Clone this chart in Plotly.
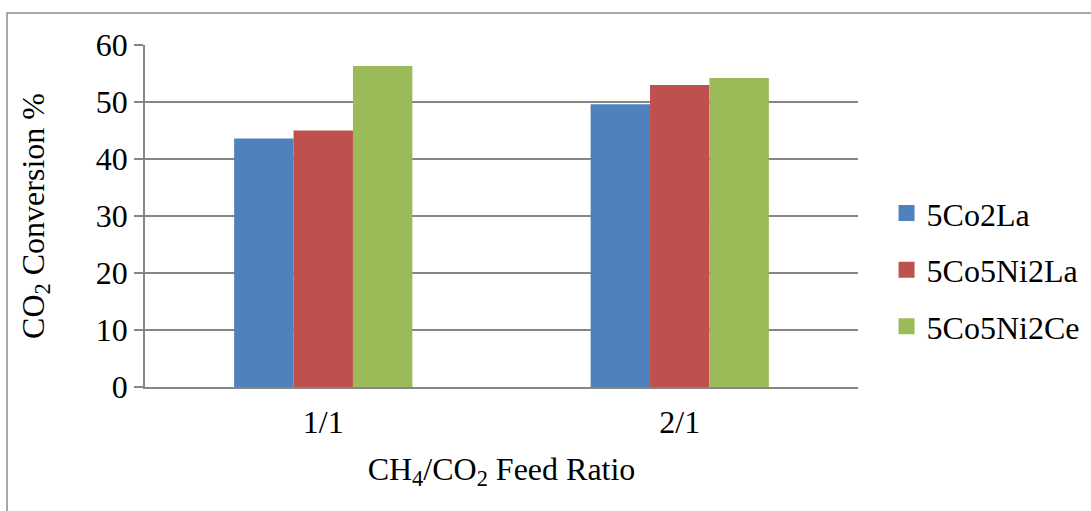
import plotly.graph_objects as go

# Feed ratios (categories) and CO2 conversion per catalyst
ratios = ["1/1", "2/1"]
catalysts = ["5Co2La", "5Co5Ni2La", "5Co5Ni2Ce"]
conv_5co2la = [43.6, 49.6]
conv_5co5ni2la = [45.0, 53.0]
conv_5co5ni2ce = [56.3, 54.2]
y_ticks = [0, 10, 20, 30, 40, 50, 60]

colors = ["#4F81BD", "#C0504D", "#9BBB59"]
series = [conv_5co2la, conv_5co5ni2la, conv_5co5ni2ce]

FONT = "Liberation Serif, Times New Roman, serif"
FS = 32
GRID = "#868686"

fig = go.Figure()
for name, vals, col in zip(catalysts, series, colors):
    fig.add_trace(go.Bar(
        x=ratios, y=vals, name=name,
        marker=dict(color=col, line=dict(width=0)),
        showlegend=False,
    ))
    # square swatches for the legend
    fig.add_trace(go.Scatter(
        x=[None], y=[None], mode="markers", name=name,
        legendgroup=name,
        marker=dict(symbol="square", size=17, color=col),
    ))

fig.update_layout(
    width=1091, height=511,
    margin=dict(l=145, r=233, t=45, b=124, autoexpand=False),
    paper_bgcolor="white", plot_bgcolor="white",
    font=dict(family=FONT, size=FS, color="black"),
    barmode="group", bargap=0.5, bargroupgap=0,
    showlegend=True,
    legend=dict(
        xref="container", yref="container",
        x=0.8126, y=0.472, xanchor="left", yanchor="middle",
        font=dict(family=FONT, size=FS, color="black"),
        tracegroupgap=12, traceorder="grouped",
        bgcolor="rgba(0,0,0,0)",
    ),
    xaxis=dict(
        showline=True, linecolor=GRID, linewidth=1.5,
        ticks="", showgrid=False,
        tickfont=dict(family=FONT, size=FS),
        ticklabelstandoff=6,
        title=dict(text="CH<sub>4</sub>/CO<sub>2</sub> Feed Ratio",
                   font=dict(family=FONT, size=FS), standoff=18),
    ),
    yaxis=dict(
        range=[0, 60], tickvals=y_ticks,
        showline=True, linecolor=GRID, linewidth=1.5,
        ticks="outside", ticklen=9, tickcolor=GRID, tickwidth=1.5,
        showgrid=True, gridcolor=GRID, gridwidth=1.5,
        zeroline=False,
        tickfont=dict(family=FONT, size=FS),
        title=dict(text="CO<sub>2</sub> Conversion %",
                   font=dict(family=FONT, size=FS), standoff=42),
    ),
    shapes=[dict(
        type="rect", xref="paper", yref="paper",
        x0=-0.1935, x1=1.4, y0=-0.6, y1=1.0936,
        line=dict(color="#8C8C8C", width=1.5), fillcolor="rgba(0,0,0,0)",
        layer="below",
    )],
)

fig.write_html("out.html")
